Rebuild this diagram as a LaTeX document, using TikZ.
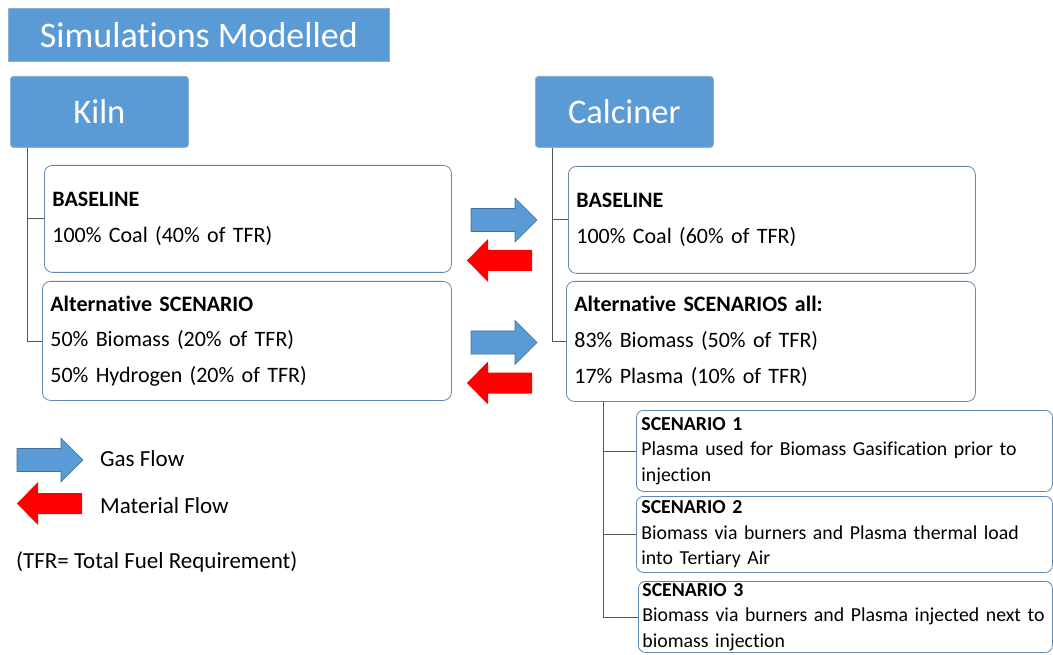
\documentclass[tikz,border=0pt]{standalone}
\usepackage{fontspec}
\setmainfont{Carlito}[Ligatures={NoCommon}]
\definecolor{headblue}{HTML}{5B9BD5}
\definecolor{headline}{HTML}{8EAFCF}
\definecolor{boxline}{HTML}{5F88B2}
\definecolor{linkgrey}{HTML}{555555}
\definecolor{gasfill}{HTML}{5B9BD5}
\definecolor{gasline}{HTML}{41719C}
\definecolor{matred}{HTML}{FF0000}
\tikzset{
  x=1pt, y=-1pt,
  header/.style={fill=headblue, draw=headline, line width=0.8pt, text=white,
    rounded corners=3pt, inner sep=0pt, font=\fontsize{34.5}{38}\selectfont},
  titlebar/.style={fill=headblue, draw=headline, line width=0.8pt, text=white,
    inner sep=0pt, font=\fontsize{36}{40}\selectfont},
  infobox/.style={fill=white, draw=boxline, line width=0.8pt, rounded corners=8pt,
    anchor=north west, inner xsep=8pt, inner ysep=0pt, align=left,
    text width=#1, font=\fontsize{22}{35.7}\selectfont},
  scenbox/.style={fill=white, draw=boxline, line width=0.8pt, rounded corners=7pt,
    anchor=north west, inner ysep=0pt, align=left,
    text width=406pt, font=\fontsize{19.8}{25.5}\selectfont},
  link/.style={draw=linkgrey, line width=0.8pt},
  legendtext/.style={anchor=west, inner sep=0pt, font=\fontsize{23}{26}\selectfont},
  gas/.pic={\draw[fill=gasfill, draw=gasline, line width=0.6pt]
    (0,-11.5) -- (44,-11.5) -- (44,-22) -- (66,0) -- (44,22) -- (44,11.5) -- (0,11.5) -- cycle;},
  material/.pic={\fill[matred]
    (0,0) -- (21,-21.5) -- (21,-10.5) -- (65,-10.5) -- (65,10.5) -- (21,10.5) -- (21,21.5) -- cycle;}
}
\begin{document}
\begin{tikzpicture}
\useasboundingbox (0,0) rectangle (1053,655);

% title and the two headings
\node[titlebar, minimum width=381pt, minimum height=53pt, anchor=north west] (title) at (8,8) {Simulations Modelled};
\node[header, minimum width=178pt, minimum height=71pt, anchor=north west] (kiln) at (10,76) {Kiln};
\node[header, minimum width=178pt, minimum height=71pt, anchor=north west] (calc) at (535,76) {Calciner};

% kiln cases
\node[infobox=391pt, minimum height=107pt] (kbase) at (44,165)
  {\textbf{BASELINE}\\100\% Coal (40\% of TFR)};
\node[infobox=393pt, minimum height=119pt] (kalt) at (42,281)
  {\textbf{Alternative SCENARIO}\\50\% Biomass (20\% of TFR)\\50\% Hydrogen (20\% of TFR)};

% calciner cases
\node[infobox=391pt, minimum height=107pt] (cbase) at (568,166)
  {\textbf{BASELINE}\\100\% Coal (60\% of TFR)};
\node[infobox=393pt, minimum height=120pt] (calt) at (566,281)
  {\textbf{Alternative SCENARIOS all:}\\83\% Biomass (50\% of TFR)\\17\% Plasma (10\% of TFR)};

% calciner scenarios
\node[scenbox, inner xsep=5pt, minimum height=81pt] (s1) at (636,410)
  {\textbf{SCENARIO 1}\\Plasma used for Biomass Gasification prior to\\injection};
\node[scenbox, inner xsep=5pt, minimum height=76pt] (s2) at (636,496)
  {\textbf{SCENARIO 2}\\Biomass via burners and Plasma thermal load\\into Tertiary Air};
\node[scenbox, inner xsep=4pt, minimum height=71pt] (s3) at (638,581)
  {\textbf{SCENARIO 3}\\Biomass via burners and Plasma injected next to\\biomass injection};

% tree connectors
\draw[link] (kiln.south west) ++(17,0) coordinate (kr) |- (kbase.west);
\draw[link] (kr) |- (kalt.west);
\draw[link] (calc.south west) ++(17,0) coordinate (cr) |- (cbase.west);
\draw[link] (cr) |- (calt.west);
\draw[link] (calt.south west) ++(37,0) coordinate (sr) |- (s1.west);
\draw[link] (sr) |- (s2.west);
\draw[link] (sr) |- (s3.west);

% flow arrows between kiln and calciner
\pic at (471,220) {gas};
\pic at (467,260.5) {material};
\pic at (471,342.5) {gas};
\pic at (467,383) {material};

% legend
\pic at (17,460) {gas};
\pic at (17,503.5) {material};
\node[legendtext] (lgas) at (100,459) {Gas Flow};
\node[legendtext] (lmat) at (100,506) {Material Flow};
\node[legendtext] (tfr) at (16,562) {(TFR= Total Fuel Requirement)};
\end{tikzpicture}
\end{document}
